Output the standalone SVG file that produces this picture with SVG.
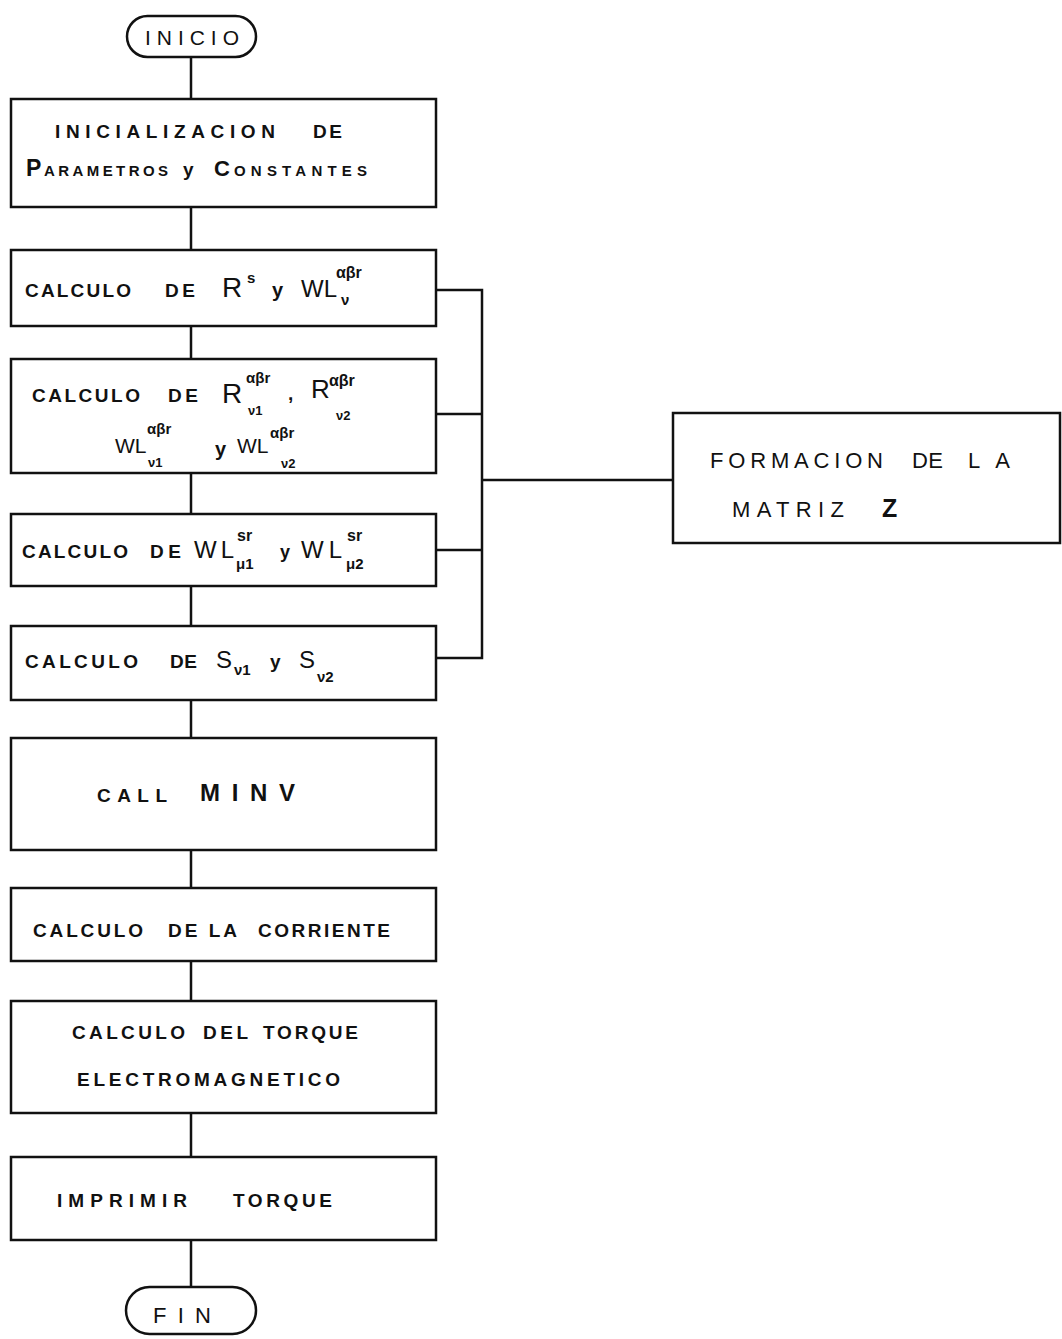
<svg xmlns="http://www.w3.org/2000/svg" width="1062" height="1339" viewBox="0 0 1062 1339">
<style>
.bx{fill:#fff;stroke:#111;stroke-width:2.5}
.ln{fill:none;stroke:#111;stroke-width:2.5}
.t{font-family:"Liberation Sans",Arial,sans-serif;font-weight:bold;fill:#111}
.n{font-family:"Liberation Sans",Arial,sans-serif;font-weight:normal;fill:#111}
.s{font-family:"Liberation Sans",Arial,sans-serif;font-weight:bold;fill:#111}
</style>
<rect width="1062" height="1339" fill="#fff"/>
<g id="connectors">
<path class="ln" d="M191 57V100M191 208V250M191 326V358M191 474V514M191 586V626M191 700V738M191 850V888M191 962V1000M191 1113V1157M191 1240V1288"/>
<path class="ln" d="M436 290H482V658H436M436 414H482M436 550H482M482 480H673"/>
</g>
<g id="inicio">
<rect class="bx" x="127" y="16" width="129" height="41" rx="20.5"/>
<text class="n" x="145" y="45" font-size="21" textLength="94" lengthAdjust="spacing">INICIO</text>
</g>
<g id="init" font-size="19">
<rect class="bx" x="11" y="99" width="425" height="108"/>
<text class="t" x="55" y="138" textLength="220" lengthAdjust="spacing">INICIALIZACION</text>
<text class="t" x="313" y="138" textLength="29" lengthAdjust="spacing">DE</text>
<text class="t" x="26" y="176" font-size="23">P</text>
<text class="t" x="44" y="176" font-size="15" textLength="124" lengthAdjust="spacing">ARAMETROS</text>
<text class="t" x="183" y="176" font-size="19">y</text>
<text class="t" x="214" y="176" font-size="22">C</text>
<text class="t" x="234" y="176" font-size="15" textLength="133" lengthAdjust="spacing">ONSTANTES</text>
</g>
<g id="calc-rs" font-size="19">
<rect class="bx" x="11" y="250" width="425" height="76"/>
<text class="t" x="25" y="297" textLength="106" lengthAdjust="spacing">CALCULO</text>
<text class="t" x="165" y="297" textLength="30" lengthAdjust="spacing">DE</text>
<text class="n" x="222" y="297" font-size="28">R</text>
<text class="s" x="247" y="283" font-size="15">s</text>
<text class="t" x="272" y="297" font-size="20">y</text>
<text class="n" x="301" y="297" font-size="24">WL</text>
<text class="s" x="336" y="278" font-size="16">αβr</text>
<text class="s" x="341" y="305" font-size="15">ν</text>
</g>
<g id="calc-r12" font-size="19">
<rect class="bx" x="11" y="359" width="425" height="114"/>
<text class="t" x="32" y="402" textLength="108" lengthAdjust="spacing">CALCULO</text>
<text class="t" x="168" y="402" textLength="30" lengthAdjust="spacing">DE</text>
<text class="n" x="222" y="403" font-size="28">R</text>
<text class="s" x="246" y="383" font-size="15">αβr</text>
<text class="s" x="248" y="415" font-size="13">ν1</text>
<text class="t" x="288" y="400" font-size="19">,</text>
<text class="n" x="311" y="398" font-size="26">R</text>
<text class="s" x="329" y="386" font-size="16">αβr</text>
<text class="s" x="336" y="420" font-size="13">ν2</text>
<text class="n" x="115" y="453" font-size="21">WL</text>
<text class="s" x="147" y="434" font-size="15">αβr</text>
<text class="s" x="148" y="467" font-size="13">ν1</text>
<text class="t" x="215" y="456" font-size="20">y</text>
<text class="n" x="237" y="453" font-size="21">WL</text>
<text class="s" x="270" y="438" font-size="15">αβr</text>
<text class="s" x="281" y="468" font-size="13">ν2</text>
</g>
<g id="calc-wlsr" font-size="19">
<rect class="bx" x="11" y="514" width="425" height="72"/>
<text class="t" x="22" y="558" textLength="106" lengthAdjust="spacing">CALCULO</text>
<text class="t" x="150" y="558" textLength="31" lengthAdjust="spacing">DE</text>
<text class="n" x="194" y="558" font-size="24" textLength="40" lengthAdjust="spacing">WL</text>
<text class="s" x="237" y="541" font-size="16">sr</text>
<text class="s" x="236" y="569" font-size="15">μ1</text>
<text class="t" x="280" y="558" font-size="18">y</text>
<text class="n" x="301" y="558" font-size="24" textLength="41" lengthAdjust="spacing">WL</text>
<text class="s" x="347" y="541" font-size="16">sr</text>
<text class="s" x="346" y="569" font-size="15">μ2</text>
</g>
<g id="calc-s" font-size="19">
<rect class="bx" x="11" y="626" width="425" height="74"/>
<text class="t" x="25" y="668" textLength="113" lengthAdjust="spacing">CALCULO</text>
<text class="t" x="170" y="668" textLength="27" lengthAdjust="spacing">DE</text>
<text class="n" x="216" y="668" font-size="24">S</text>
<text class="s" x="234" y="675" font-size="15">ν1</text>
<text class="t" x="270" y="668" font-size="19">y</text>
<text class="n" x="299" y="668" font-size="24">S</text>
<text class="s" x="317" y="682" font-size="15">ν2</text>
</g>
<g id="call-minv" font-size="19">
<rect class="bx" x="11" y="738" width="425" height="112"/>
<text class="t" x="97" y="802" textLength="70" lengthAdjust="spacing">CALL</text>
<text class="t" x="200" y="801" font-size="24" textLength="95" lengthAdjust="spacing">MINV</text>
</g>
<g id="calc-corriente" font-size="19">
<rect class="bx" x="11" y="888" width="425" height="73"/>
<text class="t" x="33" y="937" textLength="110" lengthAdjust="spacing">CALCULO</text>
<text class="t" x="168" y="937" textLength="69" lengthAdjust="spacing">DE LA</text>
<text class="t" x="258" y="937" textLength="132" lengthAdjust="spacing">CORRIENTE</text>
</g>
<g id="calc-torque" font-size="19">
<rect class="bx" x="11" y="1001" width="425" height="112"/>
<text class="t" x="72" y="1039" textLength="113" lengthAdjust="spacing">CALCULO</text>
<text class="t" x="203" y="1039" textLength="45" lengthAdjust="spacing">DEL</text>
<text class="t" x="263" y="1039" textLength="95" lengthAdjust="spacing">TORQUE</text>
<text class="t" x="77" y="1086" textLength="263" lengthAdjust="spacing">ELECTROMAGNETICO</text>
</g>
<g id="imprimir" font-size="19">
<rect class="bx" x="11" y="1157" width="425" height="83"/>
<text class="t" x="57" y="1207" textLength="130" lengthAdjust="spacing">IMPRIMIR</text>
<text class="t" x="233" y="1207" textLength="99" lengthAdjust="spacing">TORQUE</text>
</g>
<g id="fin">
<rect class="bx" x="126" y="1287" width="130" height="47" rx="23.5"/>
<text class="n" x="153" y="1323" font-size="22" textLength="58" lengthAdjust="spacing">FIN</text>
</g>
<g id="matriz">
<rect class="bx" x="673" y="413" width="387" height="130"/>
<text class="n" x="710" y="468" font-size="22" textLength="173" lengthAdjust="spacing">FORMACION</text>
<text class="n" x="912" y="468" font-size="22" textLength="31" lengthAdjust="spacing">DE</text>
<text class="n" x="968" y="468" font-size="22" textLength="42" lengthAdjust="spacing">LA</text>
<text class="n" x="732" y="517" font-size="22" textLength="112" lengthAdjust="spacing">MATRIZ</text>
<text class="t" x="882" y="517" font-size="25">Z</text>
</g>
</svg>
